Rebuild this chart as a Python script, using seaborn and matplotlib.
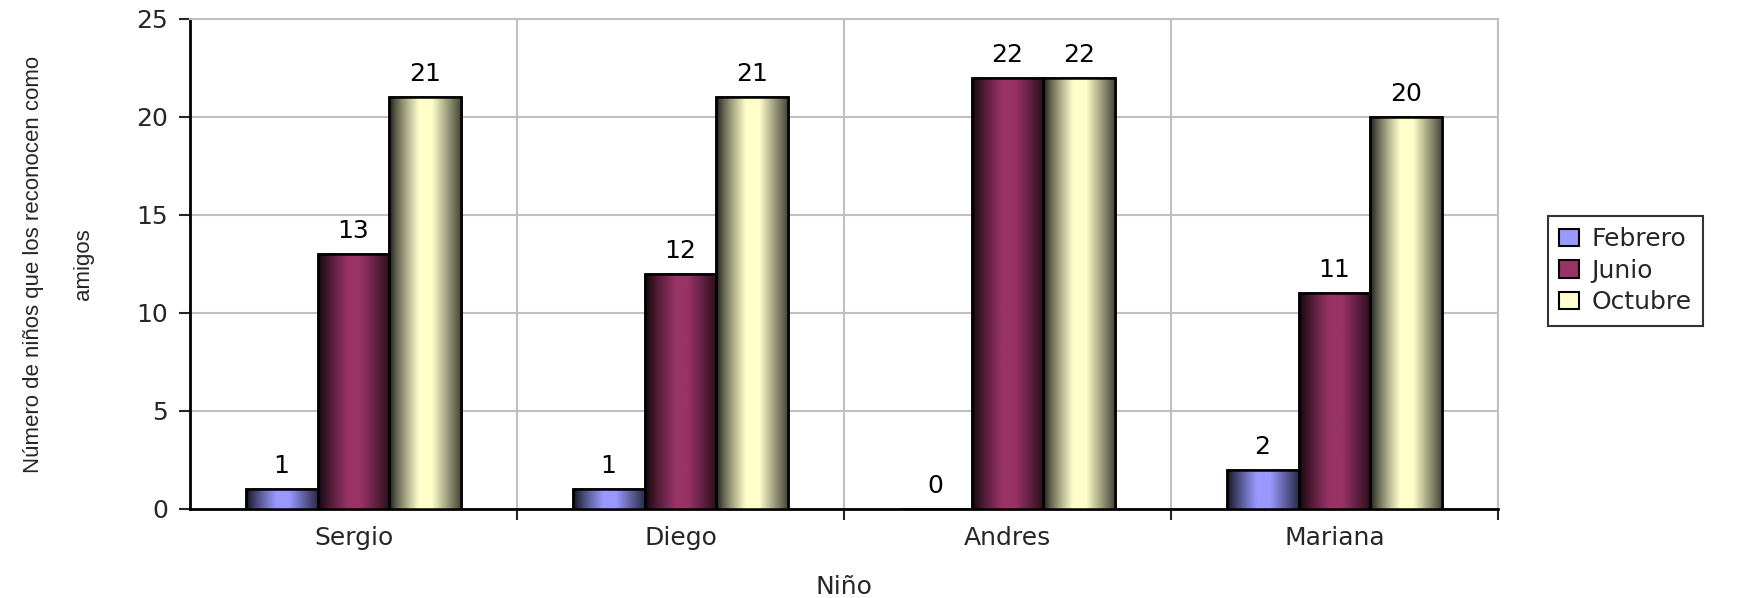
import numpy as np
import pandas as pd
import matplotlib
matplotlib.use("Agg")
import matplotlib.pyplot as plt
import matplotlib.colors as mcolors
import seaborn as sns

ninos = ["Sergio", "Diego", "Andres", "Mariana"]
meses = ["Febrero", "Junio", "Octubre"]
febrero = [1, 1, 0, 2]
junio = [13, 12, 22, 11]
octubre = [21, 21, 22, 20]
colores = ["#9999FF", "#993366", "#FFFFCC"]

rows = []
for i, n in enumerate(ninos):
    for m, vals in zip(meses, [febrero, junio, octubre]):
        rows.append({"Niño": n, "Mes": m, "Valor": vals[i]})
df = pd.DataFrame(rows)

sns.set_theme(style="white")
plt.rcParams["font.family"] = ["DejaVu Sans"]
FS = 18

fig = plt.figure(figsize=(17.54, 5.98), dpi=100)
ax = fig.add_axes([190 / 1754, 1 - 509 / 598, (1498 - 190) / 1754, (509 - 19) / 598])

sns.barplot(data=df, x="Niño", y="Valor", hue="Mes", order=ninos, hue_order=meses,
            palette=colores, width=0.66, edgecolor="black", linewidth=1.8,
            ax=ax, legend=False, zorder=3)

ax.set_ylim(0, 25)
ax.set_xlim(-0.5, 3.5)

# gradient shading of bars
t = np.linspace(0, 1, 200)
prof = np.where(t < 0.42, 0.08 + 0.92 * (t / 0.42) ** 0.8,
                np.where(t < 0.6, 1.0, 1.0 - 0.72 * ((t - 0.6) / 0.4)))
for bars, col in zip(ax.containers, colores):
    rgb = np.array(mcolors.to_rgb(col))
    grad = (prof[:, None] * rgb[None, :])[None, :, :]
    for p in bars:
        x0, y0 = p.get_x(), p.get_y()
        w, h = p.get_width(), p.get_height()
        if h <= 0:
            continue
        im = ax.imshow(grad, extent=[x0, x0 + w, y0, y0 + h], aspect="auto",
                       zorder=3.5, interpolation="bicubic")
        im.set_clip_path(p)
        edge = plt.Rectangle((x0, y0), w, h, fill=False, edgecolor="black",
                             linewidth=1.8, zorder=4)
        ax.add_patch(edge)
    ax.bar_label(bars, labels=[f"{int(v)}" for v in bars.datavalues], padding=8,
                 fontsize=FS, color="black")

# grids and spines
ax.set_yticks(np.arange(0, 26, 5))
ax.set_xticks(range(len(ninos)))
ax.set_xticklabels(ninos, fontsize=FS)
ax.set_xticks([0.5, 1.5, 2.5, 3.5], minor=True)
ax.yaxis.grid(True, color="#C0C0C0", linewidth=1.5, zorder=0)
ax.xaxis.grid(True, which="minor", color="#C0C0C0", linewidth=1.5, zorder=0)
ax.xaxis.grid(False, which="major")
ax.set_axisbelow(True)
ax.tick_params(axis="y", labelsize=FS, length=8, width=1.5, direction="out", left=True, pad=8)
ax.tick_params(axis="x", which="major", length=0, pad=12)
ax.tick_params(axis="x", which="minor", length=8, width=1.5, direction="out", bottom=True)
for s in ["left", "bottom"]:
    ax.spines[s].set_color("black")
    ax.spines[s].set_linewidth(2)
for s in ["top", "right"]:
    ax.spines[s].set_color("#C0C0C0")
    ax.spines[s].set_linewidth(1.5)

ax.set_xlabel("Niño", fontsize=FS, labelpad=18)
ax.set_ylabel("Número de niños que los reconocen como\namigos", fontsize=16,
              family=["Liberation Sans Narrow", "Liberation Sans", "DejaVu Sans"],
              linespacing=2.8, labelpad=30)

handles = [plt.Rectangle((0, 0), 1, 1, facecolor=c, edgecolor="black", linewidth=1.5)
           for c in colores]
leg = fig.legend(handles, meses, loc="upper left", bbox_to_anchor=(1548 / 1754, 1 - 216 / 598),
                 borderaxespad=0, frameon=True, fontsize=FS, handlelength=0.8, handleheight=0.7,
                 handletextpad=0.5, labelspacing=0.3, borderpad=0.45, fancybox=False)
leg.get_frame().set_edgecolor("black")
leg.get_frame().set_linewidth(1.5)

fig.savefig("out.png", dpi=100)
